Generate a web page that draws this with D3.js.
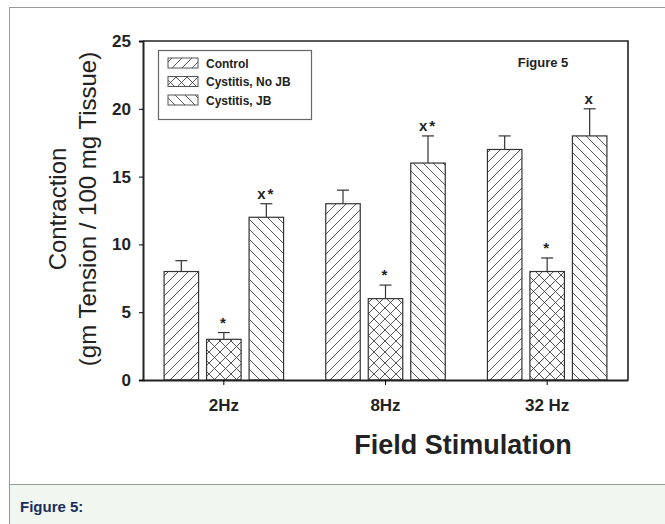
<!DOCTYPE html>
<html>
<head>
<meta charset="utf-8">
<script src="https://cdn.jsdelivr.net/npm/d3@7"></script>
<style>
  body { margin: 0; background: #fff; }
  svg { display: block; font-family: "Liberation Sans", Arial, sans-serif; }
</style>
</head>
<body>
<div id="chart"></div>
<script>
// data
var groups = ["2Hz", "8Hz", "32 Hz"];
var series = ["Control", "Cystitis, No JB", "Cystitis, JB"];
var control = [8, 13, 17];
var noJB = [3, 6, 8];
var withJB = [12, 16, 18];
var controlErr = [0.8, 1, 1];
var noJBErr = [0.5, 1, 1];
var withJBErr = [1, 2, 2];
var marks = [["", "*", "x*"], ["", "*", "x*"], ["", "*", "x"]];
var yTicks = [0, 5, 10, 15, 20, 25];

var W = 665, H = 524;
var plotL = 143, plotR = 628, plotT = 41, plotB = 380;

var svg = d3.select("#chart").append("svg")
  .attr("width", W).attr("height", H);

// hatch patterns
var defs = svg.append("defs");
function hatch(id, paths, size) {
  var p = defs.append("pattern")
    .attr("id", id)
    .attr("patternUnits", "userSpaceOnUse")
    .attr("width", size).attr("height", size);
  p.append("rect").attr("width", size).attr("height", size).attr("fill", "#fff");
  paths.forEach(function(d) {
    p.append("path").attr("d", d).attr("stroke", "#444").attr("stroke-width", 0.9).attr("fill", "none");
  });
}
hatch("fwd", ["M0,10 L10,0", "M-5,5 L5,-5", "M5,15 L15,5"], 10);
hatch("back", ["M0,0 L10,10", "M-5,5 L5,15", "M5,-5 L15,5"], 10);
hatch("cross", ["M0,11 L11,0", "M0,0 L11,11", "M-5.5,5.5 L5.5,-5.5", "M5.5,16.5 L16.5,5.5", "M-5.5,5.5 L5.5,16.5", "M5.5,-5.5 L16.5,5.5"], 11);
var fills = ["url(#fwd)", "url(#cross)", "url(#back)"];

// page frame and caption
svg.append("rect").attr("x", 9.5).attr("y", 7.5).attr("width", 700).attr("height", 600)
  .attr("fill", "#fff").attr("stroke", "#999");
svg.append("rect").attr("x", 10).attr("y", 484).attr("width", 700).attr("height", 60)
  .attr("fill", "#f0f7f0");
svg.append("line").attr("x1", 10).attr("x2", 700).attr("y1", 484.5).attr("y2", 484.5)
  .attr("stroke", "#999");
svg.append("text").attr("x", 20).attr("y", 512)
  .attr("font-size", 15).attr("font-weight", "bold").attr("fill", "#1b2c5c")
  .text("Figure 5:");

// scales
var x = d3.scaleBand().domain(groups).range([plotL, plotR]).padding(0);
var y = d3.scaleLinear().domain([0, 25]).range([plotB, plotT]);
var step = 42.5, bw = 34.5;

var table = groups.map(function(g, i) {
  return [
    {g: g, s: 0, v: control[i], e: controlErr[i], m: marks[i][0]},
    {g: g, s: 1, v: noJB[i], e: noJBErr[i], m: marks[i][1]},
    {g: g, s: 2, v: withJB[i], e: withJBErr[i], m: marks[i][2]}
  ];
}).flat();

function barX(d) { return x(d.g) + x.bandwidth() / 2 + (d.s - 1) * step - bw / 2; }

// frame around plot
svg.append("path")
  .attr("d", "M" + plotL + "," + plotT + "H" + plotR + "V" + plotB)
  .attr("fill", "none").attr("stroke", "#222").attr("stroke-width", 1.6);

// error bars (upper only)
svg.selectAll(".err").data(table).enter().append("g").each(function(d) {
  var cx = barX(d) + bw / 2;
  var g = d3.select(this);
  g.append("line").attr("x1", cx).attr("x2", cx).attr("y1", y(d.v)).attr("y2", y(d.v + d.e))
    .attr("stroke", "#333").attr("stroke-width", 1.2);
  g.append("line").attr("x1", cx - 6).attr("x2", cx + 6).attr("y1", y(d.v + d.e)).attr("y2", y(d.v + d.e))
    .attr("stroke", "#333").attr("stroke-width", 1.2);
});

// bars
svg.selectAll(".bar").data(table).enter().append("rect")
  .attr("x", barX)
  .attr("y", function(d) { return y(d.v); })
  .attr("width", bw)
  .attr("height", function(d) { return y(0) - y(d.v); })
  .attr("fill", function(d) { return fills[d.s]; })
  .attr("stroke", "#333").attr("stroke-width", 1.2);

// significance marks
svg.selectAll(".mark").data(table.filter(function(d) { return d.m; })).enter().append("text")
  .attr("x", function(d) { return barX(d) + bw / 2; })
  .attr("y", function(d) { return y(d.v + d.e) - 5; })
  .attr("text-anchor", "middle")
  .attr("font-size", 15).attr("font-weight", "bold").attr("fill", "#222")
  .attr("letter-spacing", 2)
  .text(function(d) { return d.m; });

// axes
var yAxis = svg.append("g").attr("transform", "translate(" + plotL + ",0)")
  .call(d3.axisLeft(y).tickValues(yTicks).tickSize(4).tickPadding(8));
yAxis.select(".domain").attr("stroke", "#222").attr("stroke-width", 2);
yAxis.selectAll("text").attr("font-size", 17).attr("font-weight", "bold").attr("fill", "#222")
  .attr("font-family", "Liberation Sans, Arial, sans-serif");

var xAxis = svg.append("g").attr("transform", "translate(0," + plotB + ")")
  .call(d3.axisBottom(x).tickSize(5).tickPadding(14).tickSizeOuter(0));
xAxis.select(".domain").attr("stroke", "#222").attr("stroke-width", 2.2);
xAxis.selectAll("text").attr("font-size", 17).attr("font-weight", "bold").attr("fill", "#222")
  .attr("font-family", "Liberation Sans, Arial, sans-serif");

// titles
svg.append("text").attr("x", 463).attr("y", 454).attr("text-anchor", "middle")
  .attr("font-size", 27).attr("font-weight", "bold").attr("fill", "#222")
  .text("Field Stimulation");
var yl = svg.append("text").attr("transform", "translate(66,209) rotate(-90)")
  .attr("text-anchor", "middle").attr("font-size", 24).attr("fill", "#222");
yl.append("tspan").attr("x", 0).attr("y", 0).text("Contraction");
yl.append("tspan").attr("x", 0).attr("y", 30).text("(gm Tension / 100 mg Tissue)");

svg.append("text").attr("x", 543).attr("y", 67).attr("text-anchor", "middle")
  .attr("font-size", 13).attr("font-weight", "bold").attr("fill", "#222")
  .text("Figure 5");

// legend
var lg = svg.append("g");
lg.append("rect").attr("x", 158.5).attr("y", 50.5).attr("width", 153).attr("height", 69)
  .attr("fill", "#fff").attr("stroke", "#666").attr("stroke-width", 1.2);
series.forEach(function(s, i) {
  var yy = 58 + i * 18.5;
  lg.append("rect").attr("x", 168).attr("y", yy).attr("width", 30).attr("height", 10)
    .attr("fill", fills[i]).attr("stroke", "#555").attr("stroke-width", 1);
  lg.append("text").attr("x", 206).attr("y", yy + 9.5)
    .attr("font-size", 12).attr("font-weight", "bold").attr("fill", "#222")
    .text(s);
});
</script>
</body>
</html>
